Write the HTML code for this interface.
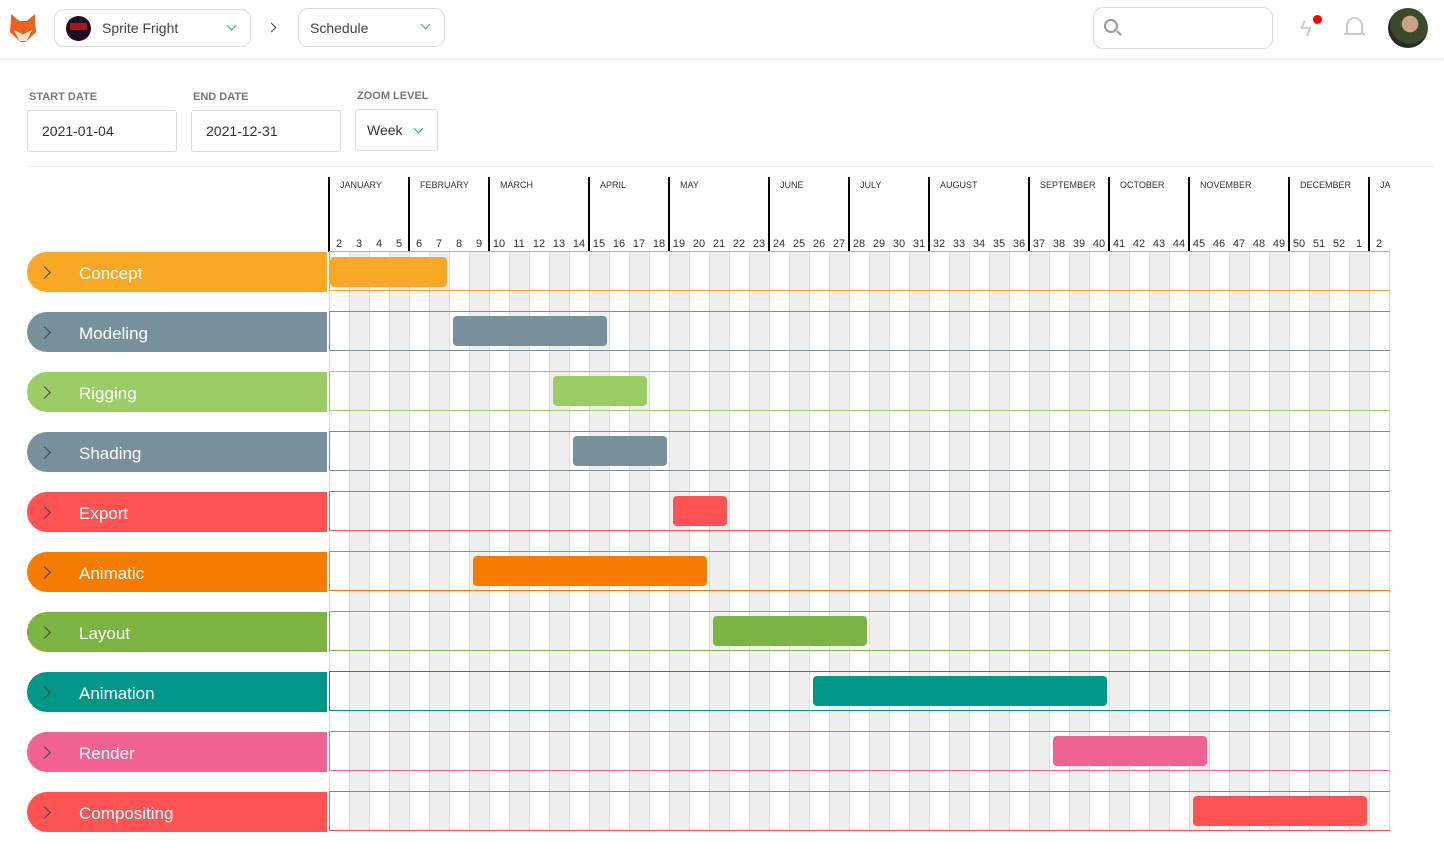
<!DOCTYPE html>
<html><head><meta charset="utf-8">
<style>
*{box-sizing:border-box;margin:0;padding:0}
body{width:1444px;height:853px;background:#fff;font-family:"Liberation Sans",sans-serif;position:relative;overflow:hidden;color:#333}
.a{position:absolute}
.box{position:absolute;border:1px solid #ddd;border-radius:10px;background:#fff}
.lbl{position:absolute;font-size:11px;color:#777;font-weight:bold}
.inp{position:absolute;border:1px solid #ddd;border-radius:3px;font-size:14px;color:#333;padding-left:14px;line-height:40px}
.chev{position:absolute;width:7px;height:7px;border-right:1.5px solid #22b573;border-bottom:1.5px solid #22b573;transform:rotate(45deg)}
.wk{position:absolute;top:238px;width:20px;text-align:center;font-size:11px;color:#333}
.mo{position:absolute;top:180px;font-size:9px;color:#333}
.ml{position:absolute;top:177px;width:2px;height:75px;background:#000}
.row{position:absolute;left:27px;width:300px;height:40px;border-radius:20px 0 0 20px;color:#fff;font-size:17px;line-height:43px;padding-left:52px}
.row:before{content:"";position:absolute;left:13px;top:16px;width:8px;height:8px;border-right:1.5px solid #444;border-top:1.5px solid #444;transform:rotate(45deg)}
.rb{position:absolute;left:329px;width:1061px;height:40px;border:1px solid;border-right:none}
.bar{position:absolute;height:30px;border-radius:4px}
</style></head><body>
<div class="a" style="left:0;top:0;width:1444px;height:58px;background:#fff;box-shadow:0 2px 3px rgba(0,0,0,.08)"></div>
<div class="a" style="left:10px;top:14px;width:26px;height:28px;background:#e8641c;clip-path:polygon(5% 0,35% 25%,65% 25%,95% 0,100% 65%,60% 100%,40% 100%,0 65%)"></div>
<div class="a" style="left:14px;top:30px;width:18px;height:11px;background:#fbe3d3;clip-path:polygon(0 0,50% 40%,100% 0,70% 100%,30% 100%)"></div>
<div class="box" style="left:54px;top:9px;width:197px;height:38px"></div>
<div class="a" style="left:66px;top:16px;width:25px;height:25px;border-radius:50%;background:#1a1020"></div>
<div class="a" style="left:70px;top:23px;width:17px;height:7px;background:#b01818"></div>
<div class="a" style="left:102px;top:20px;font-size:14px;color:#444">Sprite Fright</div>
<div class="chev" style="left:228px;top:22px"></div>
<div class="a" style="left:268px;top:24px;width:7px;height:7px;border-right:1.5px solid #444;border-top:1.5px solid #444;transform:rotate(45deg)"></div>
<div class="box" style="left:298px;top:8px;width:147px;height:39px"></div>
<div class="a" style="left:310px;top:20px;font-size:14px;color:#444">Schedule</div>
<div class="chev" style="left:422px;top:21px"></div>
<div class="box" style="left:1093px;top:7px;width:180px;height:42px"></div>
<div class="a" style="left:1104px;top:19px;width:14px;height:14px;border:2px solid #999;border-radius:50%"></div>
<div class="a" style="left:1116px;top:32px;width:6px;height:2px;background:#999;transform:rotate(45deg)"></div>
<div class="a" style="left:1300px;top:16px;font-size:22px;color:#ccc">&#x03DF;</div>
<div class="a" style="left:1313px;top:15px;width:9px;height:9px;border-radius:50%;background:#f00"></div>
<div class="a" style="left:1346px;top:17px;width:17px;height:17px;border:2px solid #ccc;border-bottom:none;border-radius:9px 9px 2px 2px"></div>
<div class="a" style="left:1344px;top:33px;width:21px;height:2px;background:#ccc"></div>
<div class="a" style="left:1388px;top:8px;width:40px;height:40px;border-radius:50%;background:radial-gradient(circle at 55% 40%,#c9a088 0 25%,#3b4a2a 26% 60%,#2a2a2a 61%)"></div>
<div class="lbl" style="left:29px;top:91px">START DATE</div>
<div class="lbl" style="left:193px;top:91px">END DATE</div>
<div class="lbl" style="left:357px;top:90px">ZOOM LEVEL</div>
<div class="inp" style="left:27px;top:110px;width:150px;height:42px">2021-01-04</div>
<div class="inp" style="left:191px;top:110px;width:150px;height:42px">2021-12-31</div>
<div class="inp" style="left:355px;top:109px;width:83px;height:42px;padding-left:11px">Week</div>
<div class="chev" style="left:415px;top:125px"></div>
<div class="a" style="left:27px;top:166px;width:1407px;height:1px;background:#eee"></div>
<div class="a" style="left:329px;top:251px;width:1061px;height:580px;background:repeating-linear-gradient(90deg,#fff 0 20px,#efefef 20px 40px)"></div>
<div class="a" style="left:329px;top:251px;width:1061px;height:580px;background:repeating-linear-gradient(90deg,#ddd 0 1px,transparent 1px 20px)"></div>
<div class="ml" style="left:328px"></div><div class="mo" style="left:340px">JANUARY</div>
<div class="ml" style="left:408px"></div><div class="mo" style="left:420px">FEBRUARY</div>
<div class="ml" style="left:488px"></div><div class="mo" style="left:500px">MARCH</div>
<div class="ml" style="left:588px"></div><div class="mo" style="left:600px">APRIL</div>
<div class="ml" style="left:668px"></div><div class="mo" style="left:680px">MAY</div>
<div class="ml" style="left:768px"></div><div class="mo" style="left:780px">JUNE</div>
<div class="ml" style="left:848px"></div><div class="mo" style="left:860px">JULY</div>
<div class="ml" style="left:928px"></div><div class="mo" style="left:940px">AUGUST</div>
<div class="ml" style="left:1028px"></div><div class="mo" style="left:1040px">SEPTEMBER</div>
<div class="ml" style="left:1108px"></div><div class="mo" style="left:1120px">OCTOBER</div>
<div class="ml" style="left:1188px"></div><div class="mo" style="left:1200px">NOVEMBER</div>
<div class="ml" style="left:1288px"></div><div class="mo" style="left:1300px">DECEMBER</div>
<div class="ml" style="left:1368px"></div><div class="mo" style="left:1380px">JA</div>
<div class="wk" style="left:329px">2</div><div class="wk" style="left:349px">3</div><div class="wk" style="left:369px">4</div><div class="wk" style="left:389px">5</div>
<div class="wk" style="left:409px">6</div><div class="wk" style="left:429px">7</div><div class="wk" style="left:449px">8</div><div class="wk" style="left:469px">9</div>
<div class="wk" style="left:489px">10</div><div class="wk" style="left:509px">11</div><div class="wk" style="left:529px">12</div><div class="wk" style="left:549px">13</div><div class="wk" style="left:569px">14</div>
<div class="wk" style="left:589px">15</div><div class="wk" style="left:609px">16</div><div class="wk" style="left:629px">17</div><div class="wk" style="left:649px">18</div>
<div class="wk" style="left:669px">19</div><div class="wk" style="left:689px">20</div><div class="wk" style="left:709px">21</div><div class="wk" style="left:729px">22</div><div class="wk" style="left:749px">23</div>
<div class="wk" style="left:769px">24</div><div class="wk" style="left:789px">25</div><div class="wk" style="left:809px">26</div><div class="wk" style="left:829px">27</div>
<div class="wk" style="left:849px">28</div><div class="wk" style="left:869px">29</div><div class="wk" style="left:889px">30</div><div class="wk" style="left:909px">31</div>
<div class="wk" style="left:929px">32</div><div class="wk" style="left:949px">33</div><div class="wk" style="left:969px">34</div><div class="wk" style="left:989px">35</div><div class="wk" style="left:1009px">36</div>
<div class="wk" style="left:1029px">37</div><div class="wk" style="left:1049px">38</div><div class="wk" style="left:1069px">39</div><div class="wk" style="left:1089px">40</div>
<div class="wk" style="left:1109px">41</div><div class="wk" style="left:1129px">42</div><div class="wk" style="left:1149px">43</div><div class="wk" style="left:1169px">44</div>
<div class="wk" style="left:1189px">45</div><div class="wk" style="left:1209px">46</div><div class="wk" style="left:1229px">47</div><div class="wk" style="left:1249px">48</div><div class="wk" style="left:1269px">49</div>
<div class="wk" style="left:1289px">50</div><div class="wk" style="left:1309px">51</div><div class="wk" style="left:1329px">52</div><div class="wk" style="left:1349px">1</div>
<div class="wk" style="left:1369px">2</div>
<div class="row" style="top:252px;background:#f9a825">Concept</div>
<div class="rb" style="top:251px;border-color:#f9a825"></div>
<div class="bar" style="left:330px;top:257px;width:117px;background:#f9a825"></div>
<div class="row" style="top:312px;background:#78909c">Modeling</div>
<div class="rb" style="top:311px;border-color:#78909c"></div>
<div class="bar" style="left:453px;top:316px;width:154px;background:#78909c"></div>
<div class="row" style="top:372px;background:#9ccc65">Rigging</div>
<div class="rb" style="top:371px;border-color:#9ccc65"></div>
<div class="bar" style="left:553px;top:376px;width:94px;background:#9ccc65"></div>
<div class="row" style="top:432px;background:#78909c">Shading</div>
<div class="rb" style="top:431px;border-color:#78909c"></div>
<div class="bar" style="left:573px;top:436px;width:94px;background:#78909c"></div>
<div class="row" style="top:492px;background:#ff5252">Export</div>
<div class="rb" style="top:491px;border-color:#ff5252"></div>
<div class="bar" style="left:673px;top:496px;width:54px;background:#ff5252"></div>
<div class="row" style="top:552px;background:#f57c00">Animatic</div>
<div class="rb" style="top:551px;border-color:#f57c00"></div>
<div class="bar" style="left:473px;top:556px;width:234px;background:#f57c00"></div>
<div class="row" style="top:612px;background:#7cb342">Layout</div>
<div class="rb" style="top:611px;border-color:#7cb342"></div>
<div class="bar" style="left:713px;top:616px;width:154px;background:#7cb342"></div>
<div class="row" style="top:672px;background:#009688">Animation</div>
<div class="rb" style="top:671px;border-color:#009688"></div>
<div class="bar" style="left:813px;top:676px;width:294px;background:#009688"></div>
<div class="row" style="top:732px;background:#f06292">Render</div>
<div class="rb" style="top:731px;border-color:#f06292"></div>
<div class="bar" style="left:1053px;top:736px;width:154px;background:#f06292"></div>
<div class="row" style="top:792px;background:#ff5252">Compositing</div>
<div class="rb" style="top:791px;border-color:#ff5252"></div>
<div class="bar" style="left:1193px;top:796px;width:174px;background:#ff5252"></div>
</body></html>
